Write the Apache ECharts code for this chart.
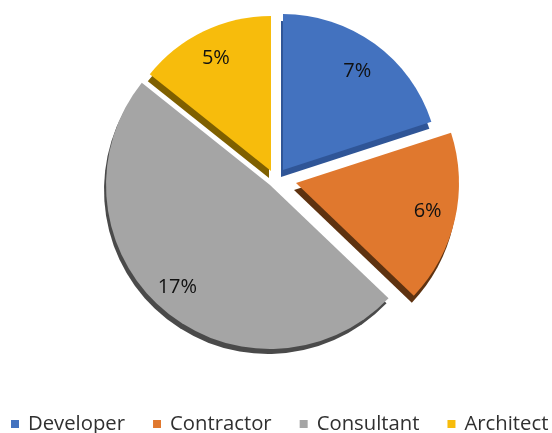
<!DOCTYPE html>
<html><head><meta charset="utf-8">
<style>html,body{margin:0;padding:0;background:#fff}#c{width:552px;height:433px}</style>
<script src="https://cdn.jsdelivr.net/npm/echarts@6/dist/echarts.min.js"></script>
</head><body><div id="c"></div>
<script>
const categories = ['Developer','Contractor','Consultant','Architect'];
const values = [7,6,17,5];
const labels = ['7%','6%','17%','5%'];
const colors = ['#4372BF','#E0782E','#A5A5A5','#F7BC0C'];
const shades = ['#2F5597','#5E3210','#4A4A4A','#7F6000'];
const centers = [[283,170],[296,183],[270,185],[271,171]];
const radii = [156,163,164,155];
const labelFrac = [0.29,0.31,0.34,0.30];
const labelNudgeY = [3,-2,-4,2];
const total = values.reduce((a,b)=>a+b,0);
let before = 0;
const series = categories.map((n,i)=>{
  const start = before/total*360;
  const sweep = values[i]/total*360;
  before += values[i];
  const mid = (start+sweep/2)*Math.PI/180;
  const dist = labelFrac[i]*radii[i];
  return {
    type:'pie',name:n,center:centers[i],radius:[0,radii[i]],
    startAngle:90-start,clockwise:true,silent:true,minAngle:0,
    itemStyle:{color:colors[i],shadowBlur:0,shadowColor:shades[i],shadowOffsetX:-2,shadowOffsetY:i===2?5:7,borderWidth:0},
    label:{position:'inside',fontFamily:'Open Sans',fontSize:20,color:'#111',formatter:()=>labels[i]},
    labelLine:{show:false},
    labelLayout:{dx:Math.sin(mid)*dist,dy:-Math.cos(mid)*dist+labelNudgeY[i]},
    data:[
      {name:n,value:values[i]},
      {name:'',value:total-values[i],label:{show:false},
       itemStyle:{color:'rgba(0,0,0,0)',shadowColor:'rgba(0,0,0,0)',borderWidth:0}}
    ]
  };
});
const chart = echarts.init(document.getElementById('c'));
chart.setOption({
  animation:false,
  legend:{bottom:-6,left:6,width:620,itemWidth:8,itemHeight:8,itemGap:28,icon:'rect',
    textStyle:{fontFamily:'Open Sans',fontSize:20.3,color:'#303030',padding:[0,0,0,4]},data:categories},
  series
});
</script></body></html>
